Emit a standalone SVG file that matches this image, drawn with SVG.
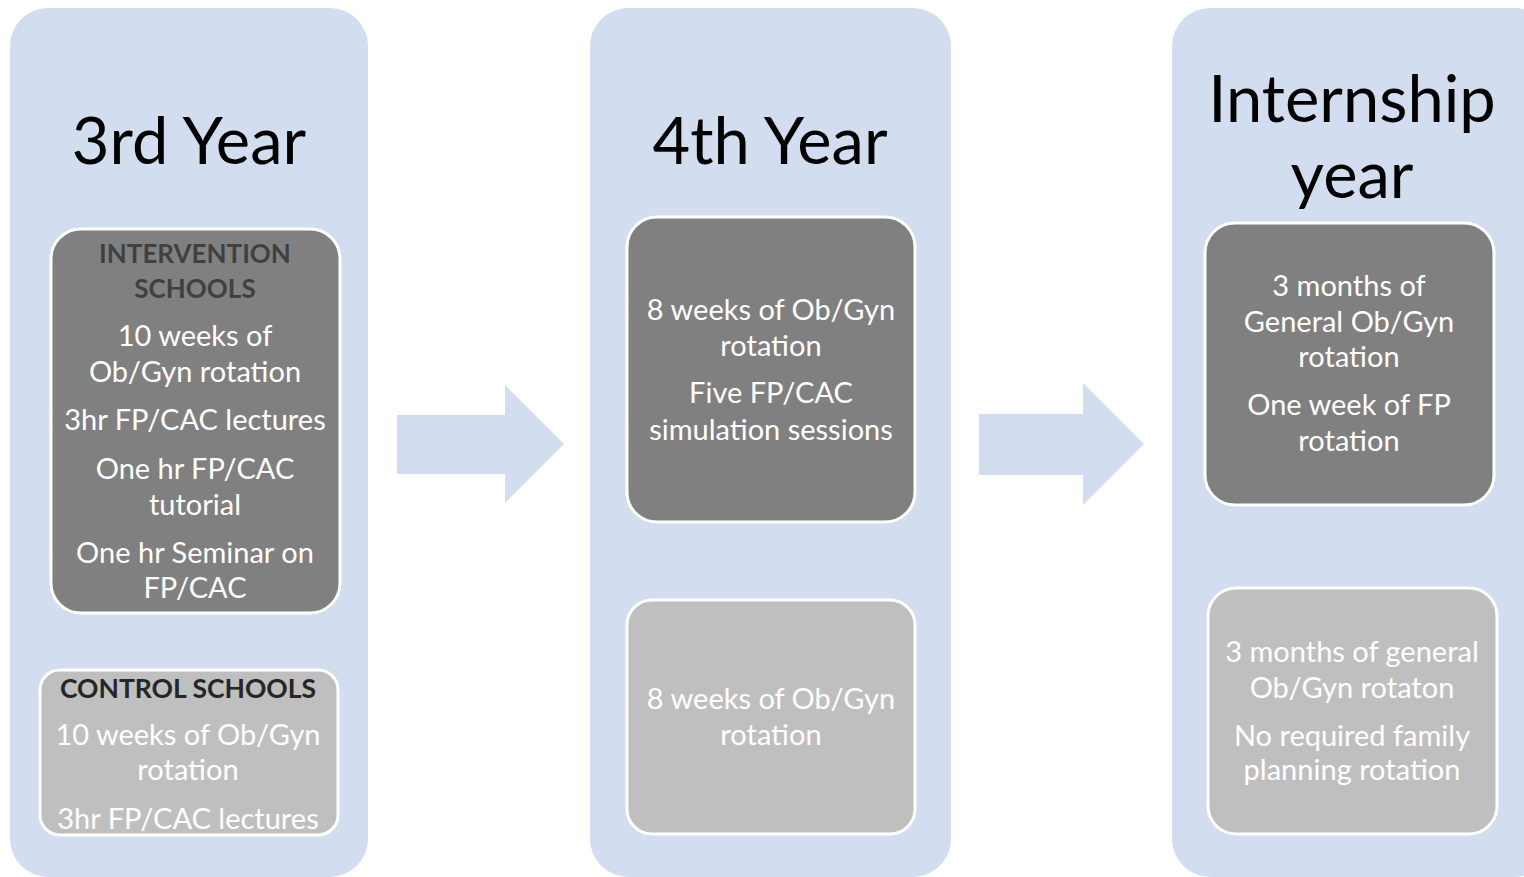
<svg xmlns="http://www.w3.org/2000/svg" width="1524" height="877" viewBox="0 0 1524 877">
<style>
.col{fill:#d2deef}
.dark{fill:#808080;stroke:#ffffff;stroke-width:3}
.light{fill:#bfbfbf;stroke:#ffffff;stroke-width:3}
.arrow{fill:#d2deef}
text{font-family:Lato,"Open Sans","Liberation Sans",sans-serif;text-anchor:middle}
.title{font-size:65px;fill:#000000}
.body{font-size:29px;fill:#ffffff}
.head{font-size:26px;font-weight:bold;fill:#404040}
.head2{font-size:26.5px;font-weight:bold;fill:#262626}
</style>
<rect x="0" y="0" width="1524" height="877" fill="#ffffff"/>
<g id="col-3rd">
<rect class="col" x="10" y="8" width="358" height="869" rx="38"/>
<text class="title" x="189" y="164">3rd Year</text>
</g>
<g id="col-4th">
<rect class="col" x="590" y="8" width="361" height="869" rx="38"/>
<text class="title" x="770" y="164">4th Year</text>
</g>
<g id="col-intern">
<rect class="col" x="1172" y="8" width="380" height="869" rx="38"/>
<text class="title" x="1352" y="122">Internship</text>
<text class="title" x="1352" y="198">year</text>
</g>
<g id="box-intervention">
<rect class="dark" x="51" y="229" width="289" height="384" rx="30"/>
<text class="head" x="195" y="263">INTERVENTION</text>
<text class="head" x="195" y="298">SCHOOLS</text>
<text class="body" x="195" y="346">10 weeks of</text>
<text class="body" x="195" y="382">Ob/Gyn rotation</text>
<text class="body" x="195" y="430">3hr FP/CAC lectures</text>
<text class="body" x="195" y="479">One hr FP/CAC</text>
<text class="body" x="195" y="515">tutorial</text>
<text class="body" x="195" y="563">One hr Seminar on</text>
<text class="body" x="195" y="598">FP/CAC</text>
</g>
<g id="box-control">
<rect class="light" x="40" y="670" width="298" height="165" rx="20"/>
<text class="head2" x="188" y="698">CONTROL SCHOOLS</text>
<text class="body" x="188" y="745">10 weeks of Ob/Gyn</text>
<text class="body" x="188" y="780">rotation</text>
<text class="body" x="188" y="829">3hr FP/CAC lectures</text>
</g>
<g id="box-4th-intervention">
<rect class="dark" x="627" y="217" width="288" height="305" rx="30"/>
<text class="body" x="771" y="320">8 weeks of Ob/Gyn</text>
<text class="body" x="771" y="356">rotation</text>
<text class="body" x="771" y="403">Five FP/CAC</text>
<text class="body" x="771" y="440">simulation sessions</text>
</g>
<g id="box-4th-control">
<rect class="light" x="627" y="600" width="288" height="234" rx="25"/>
<text class="body" x="771" y="709">8 weeks of Ob/Gyn</text>
<text class="body" x="771" y="745">rotation</text>
</g>
<g id="box-intern-intervention">
<rect class="dark" x="1205" y="223" width="289" height="282" rx="30"/>
<text class="body" x="1349" y="296">3 months of</text>
<text class="body" x="1349" y="332">General Ob/Gyn</text>
<text class="body" x="1349" y="367">rotation</text>
<text class="body" x="1349" y="415">One week of FP</text>
<text class="body" x="1349" y="451">rotation</text>
</g>
<g id="box-intern-control">
<rect class="light" x="1208" y="588" width="289" height="246" rx="28"/>
<text class="body" x="1352" y="662">3 months of general</text>
<text class="body" x="1352" y="698">Ob/Gyn rotaton</text>
<text class="body" x="1352" y="746">No required family</text>
<text class="body" x="1352" y="780">planning rotation</text>
</g>
<g id="connectors">
<polygon class="arrow" points="397,415 505,415 505,385 564,444 505,503 505,474 397,474"/>
<polygon class="arrow" points="979,414 1083,414 1083,383 1144,444 1083,505 1083,475 979,475"/>
</g>
</svg>
